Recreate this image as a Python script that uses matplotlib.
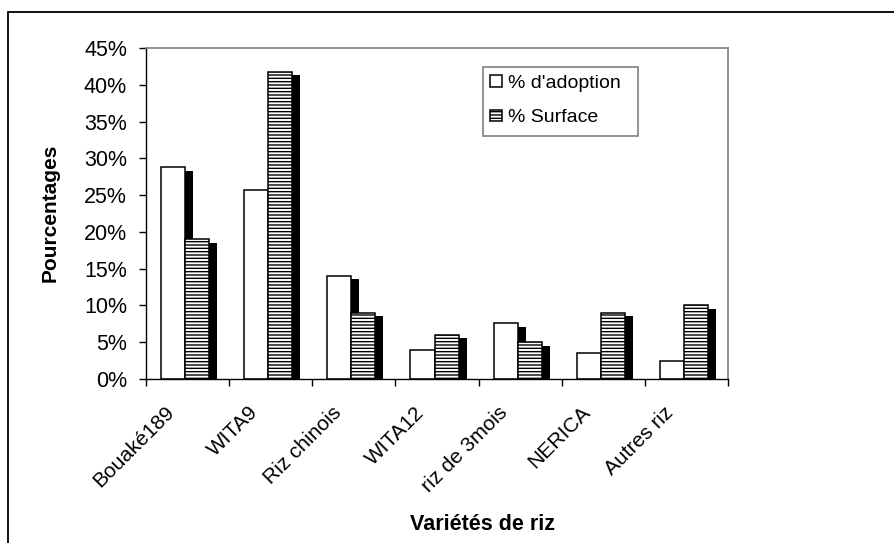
import numpy as np
import matplotlib
matplotlib.use('Agg')
import matplotlib.pyplot as plt
from matplotlib.patches import Rectangle

# --- Données ---
varietes = ['Bouaké189', 'WITA9', 'Riz chinois', 'WITA12', 'riz de 3mois', 'NERICA', 'Autres riz']
adoption = [28.8, 25.7, 14.0, 4.0, 7.6, 3.6, 2.4]   # % d'adoption
surface = [19.0, 41.8, 9.0, 6.0, 5.0, 9.0, 10.0]    # % Surface
yticks = [0, 5, 10, 15, 20, 25, 30, 35, 40, 45]
# ----------------

W, H = 895, 543   # taille de la figure en pixels

plt.rcParams['font.family'] = ['Liberation Sans', 'DejaVu Sans']
plt.rcParams['hatch.linewidth'] = 1.0

fig = plt.figure(figsize=(W / 100, H / 100), dpi=100)
ax = fig.add_axes([146 / W, 1 - 379 / H, 582 / W, 331 / H])

x = np.arange(len(varietes))
larg = 0.29
dx_ombre, dy_ombre = 0.096, 0.47   # décalage de l'ombre portée

# ombres noires derrière les barres
ax.bar(x - 0.32 + dx_ombre, np.array(adoption) - dy_ombre, width=larg, align='edge',
       color='black', linewidth=0, zorder=1)
ax.bar(x - 0.03 + dx_ombre, np.array(surface) - dy_ombre, width=larg, align='edge',
       color='black', linewidth=0, zorder=1)

b1 = ax.bar(x - 0.32, adoption, width=larg, align='edge', facecolor='white',
            edgecolor='black', linewidth=1.1, zorder=2, label="% d'adoption")
b2 = ax.bar(x - 0.03, surface, width=larg, align='edge', facecolor='white',
            edgecolor='black', hatch='-----', linewidth=1.1, zorder=3, label='% Surface')

ax.set_xlim(-0.5, len(varietes) - 0.5)
ax.set_ylim(0, 45)
ax.set_yticks(yticks)
ax.set_yticklabels([f'{v}%' for v in yticks], fontsize=15.5)
ax.tick_params(axis='y', direction='out', length=5, width=1, pad=8.6)

# étiquettes (sans trait) un peu à gauche du centre, petits traits aux limites des catégories
ax.set_xticks(x - 0.19)
ax.set_xticklabels(varietes, rotation=45, ha='right', va='center',
                   rotation_mode='anchor', fontsize=15)
ax.tick_params(axis='x', which='major', length=0, pad=22)
ax.set_xticks(np.arange(-0.5, len(varietes)), minor=True)
ax.tick_params(axis='x', which='minor', direction='out', length=5, width=1)

for s in ['top', 'right']:
    ax.spines[s].set_color('#808080')
    ax.spines[s].set_linewidth(1.2)
for s in ['left', 'bottom']:
    ax.spines[s].set_color('black')
    ax.spines[s].set_linewidth(1.0)

fig.text(50 / W, 1 - 213 / H, 'Pourcentages', rotation=90, fontsize=15,
         fontweight='bold', ha='center', va='center')
fig.text(410 / W, 1 - 529.5 / H, 'Variétés de riz', fontsize=15.5,
         fontweight='bold', ha='left', va='baseline')

# légende : cadre gris dessiné à part
fig.patches.append(Rectangle((483 / W, 1 - 136 / H), 155 / W, 69 / H, transform=fig.transFigure,
                             fill=False, edgecolor='#808080', linewidth=1.2))
ax.legend(handles=[b1, b2], loc='upper left', bbox_to_anchor=(490 / W, 1 - 75 / H),
          bbox_transform=fig.transFigure, fontsize=14, frameon=False,
          handlelength=0.6, handleheight=0.55, handletextpad=0.35,
          borderaxespad=0, borderpad=0, labelspacing=0.9)

# cadre extérieur du graphique
fig.patches.append(Rectangle((8 / W, -0.05), 1.0, 1 - 12 / H + 0.05, transform=fig.transFigure,
                             fill=False, edgecolor='black', linewidth=1.3))

fig.savefig('out.png', dpi=100)
